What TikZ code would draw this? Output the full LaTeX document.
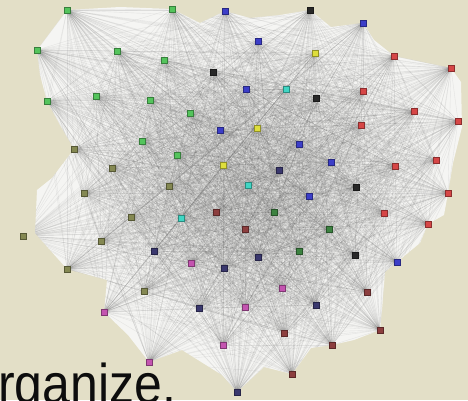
\documentclass[tikz,border=0pt]{standalone}
\usepackage{fontspec}
\setmainfont{Liberation Sans}
\pgfdeclarelayer{back}
\pgfdeclarelayer{bg}
\pgfsetlayers{back,bg,main}
\definecolor{beige}{RGB}{227,223,199}
\definecolor{hullc}{RGB}{245,245,243}
\definecolor{cGreen}{RGB}{84,196,92}
\definecolor{cDGreen}{RGB}{60,130,64}
\definecolor{cBlue}{RGB}{60,62,200}
\definecolor{cNavy}{RGB}{58,56,110}
\definecolor{cBlack}{RGB}{40,40,40}
\definecolor{cYellow}{RGB}{222,222,60}
\definecolor{cRed}{RGB}{214,70,70}
\definecolor{cCyan}{RGB}{64,214,196}
\definecolor{cOlive}{RGB}{132,136,82}
\definecolor{cMag}{RGB}{196,84,176}
\definecolor{cMaroon}{RGB}{140,62,62}
\tikzset{
  vtx/.style={rectangle, minimum size=6pt, inner sep=0pt, line width=0.5pt, fill=#1, draw=#1!65!black},
  edge/.style={draw=black!65, line width=0.4pt, opacity=0.11},
  label text/.style={anchor=base west, inner sep=0pt, text=black!95, font=\fontsize{50}{50}\selectfont}
}
\begin{document}
\begin{tikzpicture}[x=1pt,y=-1pt]
\begin{pgfonlayer}{back}
\fill[beige] (0,0) rectangle (468,400);
\end{pgfonlayer}
\useasboundingbox (0,0) rectangle (468,400);
% nodes
\foreach \n/\x/\y/\c in {
 1/67/10/cGreen, 2/172/9/cGreen, 3/225/11/cBlue, 4/37/50/cGreen, 5/117/51/cGreen,
 6/164/60/cGreen, 7/213/72/cBlack, 8/47/101/cGreen, 9/96/96/cGreen, 10/150/100/cGreen,
 11/190/113/cGreen, 12/220/130/cBlue, 13/142/141/cGreen, 14/74/149/cOlive, 15/177/155/cGreen,
 16/223/165/cYellow, 17/112/168/cOlive, 18/169/186/cOlive, 19/84/193/cOlive, 20/310/10/cBlack,
 21/363/23/cBlue, 22/258/41/cBlue, 23/315/53/cYellow, 24/394/56/cRed, 25/451/68/cRed,
 26/246/89/cBlue, 27/286/89/cCyan, 28/316/98/cBlack, 29/363/91/cRed, 30/414/111/cRed,
 31/458/121/cRed, 32/257/128/cYellow, 33/361/125/cRed, 34/299/144/cBlue, 35/331/162/cBlue,
 36/279/170/cNavy, 37/395/166/cRed, 38/436/160/cRed, 39/248/185/cCyan, 40/356/187/cBlack,
 41/309/196/cBlue, 42/448/193/cRed, 43/23/236/cOlive, 44/131/217/cOlive, 45/181/218/cCyan,
 46/216/212/cMaroon, 47/101/241/cOlive, 48/154/251/cNavy, 49/191/263/cMag, 50/224/268/cNavy,
 51/67/269/cOlive, 52/144/291/cOlive, 53/104/312/cMag, 54/199/308/cNavy, 55/223/345/cMag,
 56/149/362/cMag, 57/274/212/cDGreen, 58/245/229/cMaroon, 59/384/213/cRed, 60/428/224/cRed,
 61/329/229/cDGreen, 62/258/257/cNavy, 63/299/251/cDGreen, 64/355/255/cBlack, 65/397/262/cBlue,
 66/282/288/cMag, 67/367/292/cMaroon, 68/245/307/cMag, 69/316/305/cNavy, 70/284/333/cMaroon,
 71/380/330/cMaroon, 72/332/345/cMaroon, 73/292/374/cMaroon, 74/237/392/cNavy}
 { \node[vtx=\c] (n\n) at (\x,\y) {}; }
\begin{pgfonlayer}{bg}
\begin{scope}
\clip (67,10) -- (120,7) -- (172,9) -- (200,23) -- (225,11) -- (250,18) -- (280,15) -- (310,10)
 -- (331,27) -- (363,23) -- (374,40) -- (394,56) -- (451,68) -- (461,82) -- (462,127) -- (453,163)
 -- (448,193) -- (444,215) -- (428,224) -- (420,243) -- (397,262) -- (385,272) -- (382,310)
 -- (380,330) -- (354,340) -- (332,345) -- (311,348) -- (292,374) -- (264,367) -- (237,392)
 -- (222,375) -- (182,350) -- (149,362) -- (128,335) -- (104,312) -- (107,280) -- (67,269)
 -- (50,250) -- (35,233) -- (37,190) -- (52,178) -- (74,149) -- (60,125) -- (47,101) -- (40,75)
 -- (37,50) -- cycle;
\fill[hullc] (0,0) rectangle (468,400);
\foreach \i in {1,...,73} {
  \pgfmathtruncatemacro\js{\i+1}
  \foreach \j in {\js,...,74} { \draw[edge] (n\i.center) -- (n\j.center); }
}
\end{scope}
\end{pgfonlayer}
\node[label text] (lbl) at (-2,403) {\scalebox{1}[1.12]{rganize.}};
\end{tikzpicture}
\end{document}
